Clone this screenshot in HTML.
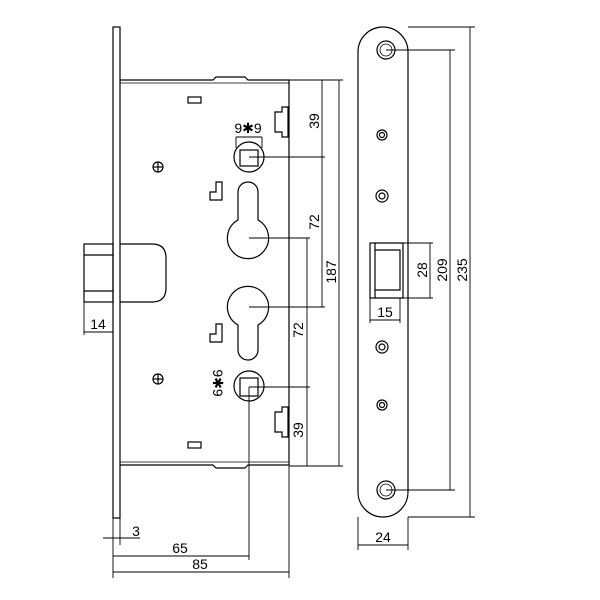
<!DOCTYPE html>
<html><head><style>body{margin:0;background:#fff}svg{display:block}text{font-family:"Liberation Sans",sans-serif;font-size:14px;fill:#000}</style></head>
<body>
<svg width="600" height="600" viewBox="0 0 600 600" xmlns="http://www.w3.org/2000/svg" fill="none" stroke="#000" stroke-width="1.2">
<!-- faceplate -->
<rect x="113" y="27" width="7" height="491"/>
<!-- body -->
<path d="M120 80 H213 L216 77 H245 L248 80 H289 V465 H248 L245 468 H216 L213 465 H120"/>
<line x1="120" y1="83" x2="289" y2="83" stroke-width="0.8"/>
<line x1="120" y1="462" x2="289" y2="462" stroke-width="0.8"/>
<!-- bolt -->
<rect x="84" y="244" width="29" height="58"/>
<line x1="84" y1="255" x2="113" y2="255"/><line x1="84" y1="291" x2="113" y2="291"/>
<path d="M120 244 H152 Q166 244 166 258 V288 Q166 302 152 302 H120"/>
<!-- small features -->
<rect x="188" y="97" width="13" height="6"/>
<rect x="188" y="442" width="13" height="6"/>
<path d="M275 112 h7 v-5 h6 v30 h-6 v-5 h-7 z"/>
<path d="M275 412 h7 v-5 h6 v30 h-6 v-5 h-7 z"/>
<path d="M210 192 h6 v-10 h6 v18 h-12 z"/>
<path d="M210 334 h6 v-10 h6 v18 h-12 z"/>
<circle cx="158" cy="167" r="5"/><line x1="153" y1="167" x2="163" y2="167"/><line x1="158" y1="162" x2="158" y2="172"/>
<circle cx="158" cy="379" r="5"/><line x1="153" y1="379" x2="163" y2="379"/><line x1="158" y1="374" x2="158" y2="384"/>
<!-- spindles -->
<circle cx="249" cy="157" r="15"/><rect x="240" y="150" width="18" height="16"/>
<circle cx="249" cy="386" r="15"/><rect x="240" y="378" width="18" height="18"/>
<!-- keyholes -->
<path d="M238 220 V192 A10 10 0 0 1 258 192 V220 A20.6 20.6 0 1 1 238 220 Z"/>
<path d="M238 325 A20.6 20.6 0 1 1 258 325 V350 A10 10 0 0 1 238 350 Z"/>
<!-- dims lock -->
<g stroke-width="0.9">
<line x1="289" y1="80" x2="343" y2="80"/><line x1="289" y1="466" x2="343" y2="466"/>
<line x1="249" y1="157" x2="325" y2="157"/><line x1="249" y1="238" x2="310" y2="238"/>
<line x1="249" y1="307" x2="325" y2="307"/><line x1="249" y1="387" x2="310" y2="387"/>
<line x1="322" y1="80" x2="322" y2="157"/><line x1="322" y1="157" x2="322" y2="307"/>
<line x1="307" y1="238" x2="307" y2="466"/>
<line x1="339" y1="80" x2="339" y2="466"/>
<line x1="249" y1="387" x2="249" y2="560"/>
<line x1="113" y1="518" x2="113" y2="578"/><line x1="120" y1="518" x2="120" y2="545"/>
<line x1="289" y1="466" x2="289" y2="578"/>
<line x1="113" y1="556" x2="249" y2="556"/><line x1="113" y1="572" x2="289" y2="572"/>
<line x1="103" y1="538" x2="140" y2="538"/>
<line x1="84" y1="302" x2="84" y2="335"/><line x1="84" y1="332" x2="113" y2="332"/>
<line x1="236" y1="137" x2="236" y2="148"/><line x1="262" y1="137" x2="262" y2="148"/>
<line x1="236" y1="137" x2="262" y2="137"/>
</g>
<g stroke="none">
<text x="0" y="0" transform="translate(319,121) rotate(-90)" text-anchor="middle">39</text>
<text x="0" y="0" transform="translate(319,222) rotate(-90)" text-anchor="middle">72</text>
<text x="0" y="0" transform="translate(336,272) rotate(-90)" text-anchor="middle">187</text>
<text x="0" y="0" transform="translate(303,330) rotate(-90)" text-anchor="middle">72</text>
<text x="0" y="0" transform="translate(303,430) rotate(-90)" text-anchor="middle">39</text>
<text x="248" y="133" text-anchor="middle">9✱9</text>
<text x="0" y="0" transform="translate(213,383) rotate(90)" text-anchor="middle">9✱9</text>
<text x="98" y="329" text-anchor="middle">14</text>
<text x="136" y="536" text-anchor="middle">3</text>
<text x="180" y="553" text-anchor="middle">65</text>
<text x="200" y="569" text-anchor="middle">85</text>
</g>
<!-- strike plate -->
<rect x="358" y="27" width="50" height="490" rx="25"/>
<circle cx="386" cy="50" r="9"/><circle cx="386" cy="50" r="6" stroke-width="0.8"/>
<circle cx="386" cy="490" r="9"/><circle cx="386" cy="490" r="6" stroke-width="0.8"/>
<circle cx="382" cy="135" r="5"/><circle cx="382" cy="135" r="2.5"/>
<circle cx="382" cy="196" r="6"/><circle cx="382" cy="196" r="3"/>
<circle cx="382" cy="347" r="6"/><circle cx="382" cy="347" r="3"/>
<circle cx="382" cy="405" r="5"/><circle cx="382" cy="405" r="2.5"/>
<rect x="370" y="243" width="5" height="55"/>
<path d="M375 243 H403 V298 H375 M375 250 H400 V290 H375"/>
<g stroke-width="0.9">
<line x1="386" y1="50" x2="455" y2="50"/><line x1="386" y1="490" x2="455" y2="490"/>
<line x1="408" y1="27" x2="475" y2="27"/><line x1="408" y1="517" x2="475" y2="517"/>
<line x1="450" y1="50" x2="450" y2="490"/><line x1="470" y1="27" x2="470" y2="517"/>
<line x1="403" y1="243" x2="433" y2="243"/><line x1="403" y1="298" x2="433" y2="298"/>
<line x1="430" y1="243" x2="430" y2="298"/>
<line x1="370" y1="298" x2="370" y2="323"/><line x1="400" y1="298" x2="400" y2="323"/>
<line x1="370" y1="320" x2="400" y2="320"/>
<line x1="358" y1="517" x2="358" y2="550"/><line x1="408" y1="517" x2="408" y2="550"/>
<line x1="358" y1="545" x2="408" y2="545"/>
</g>
<g stroke="none">
<text x="0" y="0" transform="translate(427,270) rotate(-90)" text-anchor="middle">28</text>
<text x="0" y="0" transform="translate(447,270) rotate(-90)" text-anchor="middle">209</text>
<text x="0" y="0" transform="translate(467,270) rotate(-90)" text-anchor="middle">235</text>
<text x="385" y="317" text-anchor="middle">15</text>
<text x="383" y="542" text-anchor="middle">24</text>
</g>
</svg>
</body></html>
